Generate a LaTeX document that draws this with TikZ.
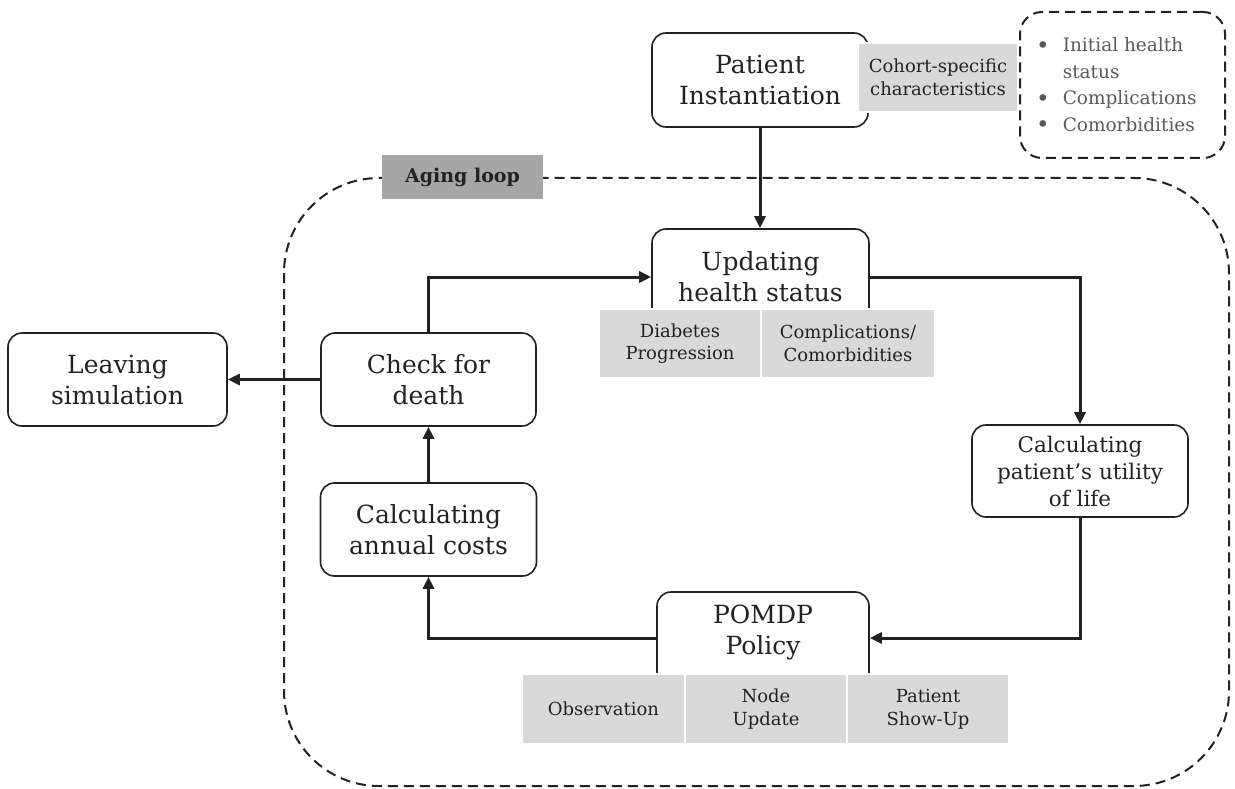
\documentclass[tikz,border=0pt]{standalone}
\usepackage{fontspec}
\setmainfont{DejaVu Serif}
\usetikzlibrary{arrows.meta}

\definecolor{ink}{HTML}{222222}
\definecolor{boxgray}{HTML}{D9D9D9}
\definecolor{labgray}{HTML}{A6A6A6}
\definecolor{listink}{HTML}{5A5A5A}

\newcommand{\itemdot}{\raisebox{-1.5pt}{\fontsize{23}{23}\selectfont\textbullet}}

\begin{document}
\begin{tikzpicture}[x=1pt,y=-1pt,
  stepbox/.style={draw=ink, line width=1.6pt, rounded corners=14pt, fill=white,
    inner sep=0pt, align=center, text=ink, font=\fontsize{25}{31}\selectfont},
  boxtext/.style={align=center, text=ink, font=\fontsize{25}{31}\selectfont, inner sep=0pt},
  tagbox/.style={fill=boxgray, draw=white, line width=1.2pt, inner sep=0pt,
    align=center, text=ink, font=\fontsize{18}{22.5}\selectfont},
  flow/.style={draw=ink, line width=3pt, -{Triangle[length=12pt,width=11pt]}},
  loopline/.style={draw=ink, line width=2pt, dash pattern=on 10pt off 6pt},
]
\useasboundingbox (0,0) rectangle (1235,789);

% aging loop boundary and its label
\draw[loopline, rounded corners=95pt] (284,178) rectangle (1229,786);
\node[fill=labgray, minimum width=161pt, minimum height=44pt, inner sep=0pt,
  text=ink, font=\fontsize{19}{22}\selectfont\bfseries] (aging) at (462.5,177) {Aging loop};

% patient instantiation and cohort traits
\node[stepbox, minimum width=216pt, minimum height=94pt] (pat) at (760,80) {Patient\\Instantiation};
\node[tagbox, minimum width=160pt, minimum height=69pt] (cohort) at (938,77.5) {Cohort-specific\\characteristics};
\node[draw=ink, line width=2pt, dash pattern=on 10pt off 6pt, rounded corners=22pt,
  minimum width=205pt, minimum height=146pt] (traits) at (1122.5,85) {};
\node[anchor=west, text=listink, font=\fontsize{18.5}{26.5}\selectfont, inner sep=0pt] (traitlist) at (1036,86)
  {\begin{tabular}{@{}l@{\hspace{13pt}}l@{}}
    \itemdot & Initial health\\
             & status\\
    \itemdot & Complications\\
    \itemdot & Comorbidities
  \end{tabular}};

% updating health status
\node[stepbox, minimum width=217pt, minimum height=111pt] (upd) at (760.5,284.5) {};
\node[boxtext] (updtext) at (760.5,277) {Updating\\health status};
\coordinate (updport) at (760.5,277);
\node[tagbox, minimum width=162pt, minimum height=69pt] (diab) at (680,343.5) {Diabetes\\Progression};
\node[tagbox, minimum width=174pt, minimum height=69pt] (comp) at (848,343.5) {Complications/\\Comorbidities};

% left column
\node[stepbox, minimum width=215pt, minimum height=93pt] (check) at (428.5,379.5) {Check for\\death};
\node[stepbox, minimum width=219pt, minimum height=93pt] (leave) at (117.5,379.5) {Leaving\\simulation};
\node[stepbox, minimum width=216pt, minimum height=93pt] (cost) at (428.5,529.5) {Calculating\\annual costs};

% utility
\node[stepbox, minimum width=216pt, minimum height=92pt, font=\fontsize{21.5}{27}\selectfont] (util) at (1080,471)
  {Calculating\\patient’s utility\\of life};

% POMDP policy
\node[stepbox, minimum width=212pt, minimum height=108pt] (pom) at (763,646) {};
\node[boxtext] (pomtext) at (763,632) {POMDP\\Policy};
\coordinate (pomport) at (763,638);
\node[tagbox, minimum width=163pt, minimum height=70pt] (obs) at (603.5,709) {Observation};
\node[tagbox, minimum width=162pt, minimum height=70pt] (nodeupd) at (766,709) {Node\\Update};
\node[tagbox, minimum width=162pt, minimum height=70pt] (show) at (928,709) {Patient\\Show-Up};

% flow of the simulation
\draw[flow] (pat.south) -- (pat.south |- upd.north);
\draw[flow] (check.north) |- (upd.west |- updport);
\draw[flow] (upd.east |- updport) -| (util.north);
\draw[flow] (util.south) |- (pom.east |- pomport);
\draw[flow] (pom.west |- pomport) -| (cost.south);
\draw[flow] (cost.north) -- (check.south);
\draw[flow] (check.west) -- (leave.east);
\end{tikzpicture}
\end{document}
